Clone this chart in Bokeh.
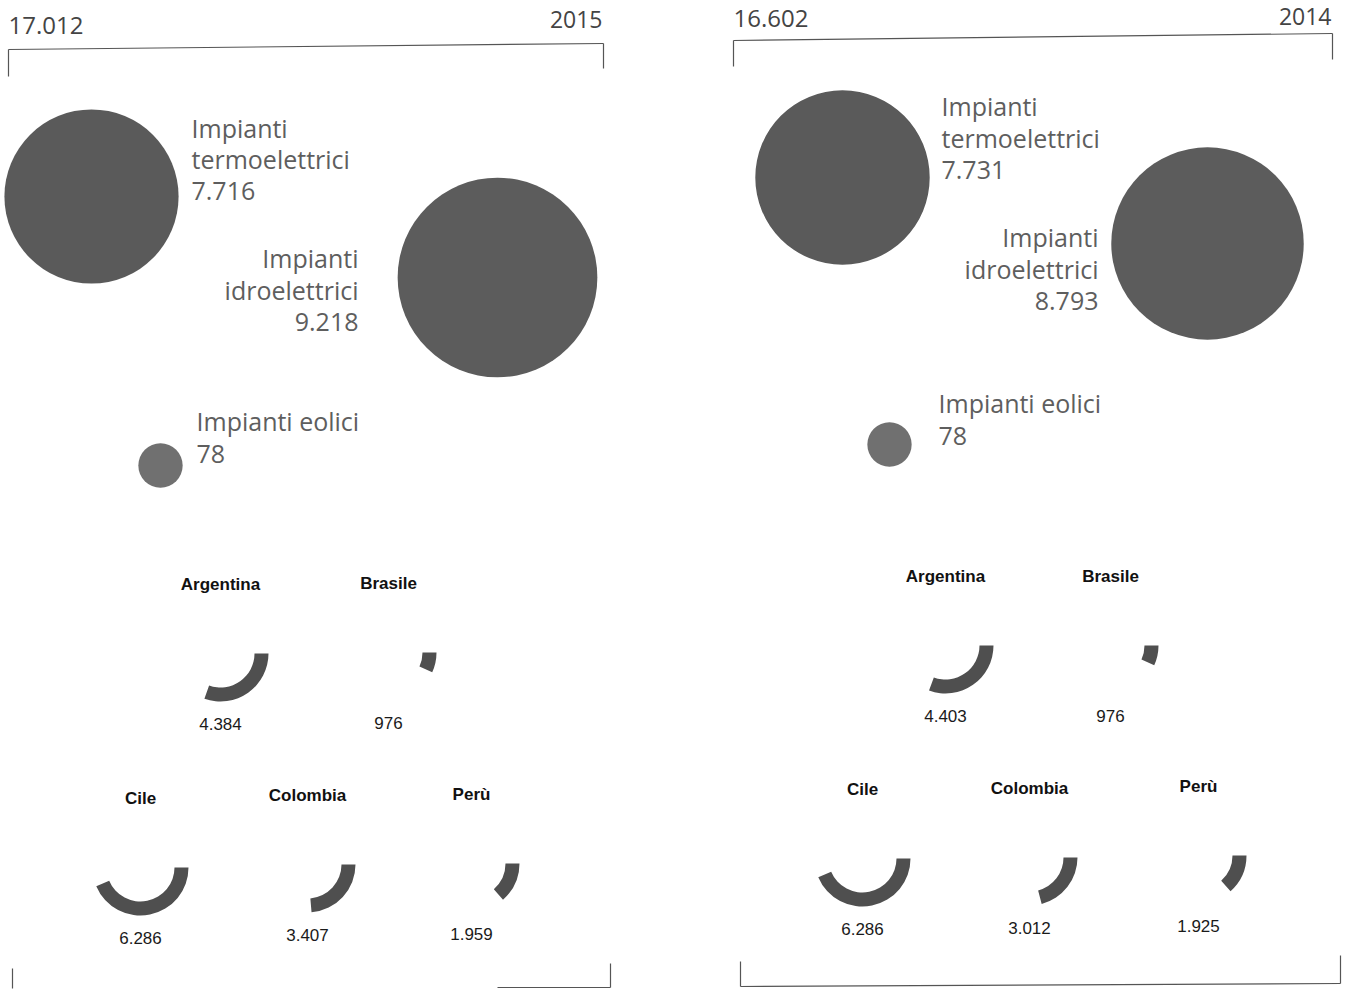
import math
from bokeh.plotting import figure
from bokeh.models import Range1d
from bokeh.core.properties import value
from bokeh.embed import file_html
from bokeh.resources import INLINE

# ---------------- data ----------------
years = ["2015", "2014"]
totals = [17012, 16602]
plant_labels = ["Impianti\ntermoelettrici", "Impianti\nidroelettrici", "Impianti eolici"]
plants_2015 = [7716, 9218, 78]
plants_2014 = [7731, 8793, 78]
countries = ["Argentina", "Brasile", "Cile", "Colombia", "Perù"]
countries_2015 = [4384, 976, 6286, 3407, 1959]
countries_2014 = [4403, 976, 6286, 3012, 1925]

# ---------------- styling / scales ----------------
W, H = 1349, 989
CIRCLE_R0, CIRCLE_K = 21.5, 0.0085        # radius = r0 + k * MW
ARC_FULL = 14400.0                          # MW corresponding to a full ring
ARC_R_IN, ARC_R_OUT = 34, 48
BIG_FONT = value("Open Sans")
SMALL_FONT = value("Liberation Sans")
CIRCLE_COLORS = ["#5a5a5a", "#5c5c5c", "#707070"]
ARC_COLOR = "#4f4f4f"
LINE_COLOR = "#555555"
BIG_DY, SMALL_DY = -11, -7                  # baseline correction for rendering


def fmt(v):
    return f"{v:,}".replace(",", ".")


def Y(sy):
    # page pixel row -> data y
    return H - sy


# layout of each panel (page pixel positions)
layouts = [
    dict(
        total_xy=(8, 36), year_xy=(602, 30),
        top=[(8, 49, 603, 43), (8, 49, 8, 76), (603, 43, 603, 68)],
        bottom=[(12, 968, 12, 988), (610, 963, 610, 987), (497, 987, 610, 987)],
        circles=[(91, 196), (497, 277), (160, 465)],
        labels=[(191, 138, "left", 31.5), (358, 268, "right", 32), (196, 431, "left", 33)],
        arcs=[(220, 653), (388, 652), (140, 867), (307, 864), (471, 863)],
    ),
    dict(
        total_xy=(733, 29), year_xy=(1331, 27),
        top=[(733, 40, 1332, 33), (733, 40, 733, 66), (1332, 33, 1332, 59)],
        bottom=[(740, 986, 1340, 983), (740, 961, 740, 986), (1340, 955, 1340, 983)],
        circles=[(842, 177), (1207, 243), (889, 444)],
        labels=[(941, 116, "left", 32), (1098, 247, "right", 32), (938, 413, "left", 33)],
        arcs=[(945, 645), (1110, 645), (862, 858), (1029, 857), (1198, 855)],
    ),
]
plant_values = [plants_2015, plants_2014]
country_values = [countries_2015, countries_2014]

p = figure(width=W, height=H, x_range=Range1d(0, W), y_range=Range1d(0, H),
           output_backend="svg", toolbar_location=None,
           x_axis_type=None, y_axis_type=None, min_border=0)
p.grid.visible = False
p.outline_line_color = None
p.background_fill_color = "white"
p.border_fill_color = "white"

for i, lay in enumerate(layouts):
    # header texts
    tx, ty = lay["total_xy"]
    p.text(x=[tx], y=[Y(ty + BIG_DY)], text=[fmt(totals[i])], text_font=BIG_FONT,
           text_font_size="24px", text_color="#444444", text_align="left",
           text_baseline="alphabetic")
    yx, yy = lay["year_xy"]
    p.text(x=[yx], y=[Y(yy + BIG_DY)], text=[years[i]], text_font=BIG_FONT,
           text_font_size="23px", text_color="#444444", text_align="right",
           text_baseline="alphabetic")
    # brackets
    segs = lay["top"] + lay["bottom"]
    p.segment(x0=[s[0] for s in segs], y0=[Y(s[1]) for s in segs],
              x1=[s[2] for s in segs], y1=[Y(s[3]) for s in segs],
              line_color=LINE_COLOR, line_width=1.2)

    # plant circles
    vals = plant_values[i]
    for j, v in enumerate(vals):
        cx, cy = lay["circles"][j]
        r = CIRCLE_R0 + CIRCLE_K * v
        p.circle(x=[cx], y=[Y(cy)], radius=r, fill_color=CIRCLE_COLORS[j],
                 line_color=None)
        lx, ly, al, lh = lay["labels"][j]
        lines = plant_labels[j].split("\n") + [fmt(v)]
        p.text(x=[lx] * len(lines),
               y=[Y(ly + k * lh + BIG_DY) for k in range(len(lines))],
               text=lines, text_font=BIG_FONT, text_font_size="25px",
               text_color="#5e5e5e", text_align=al, text_baseline="alphabetic")

    # country arcs
    cvals = country_values[i]
    for j, v in enumerate(cvals):
        cx, cy = lay["arcs"][j]
        ang = v / ARC_FULL * 2 * math.pi
        p.annular_wedge(x=[cx], y=[Y(cy)], inner_radius=ARC_R_IN, outer_radius=ARC_R_OUT,
                        start_angle=0, end_angle=-ang, direction="clock",
                        fill_color=ARC_COLOR, line_color=None)
        p.text(x=[cx], y=[Y(cy - 62 + SMALL_DY)], text=[countries[j]], text_font=SMALL_FONT,
               text_font_style="bold", text_font_size="17px", text_color="#111111",
               text_align="center", text_baseline="alphabetic")
        p.text(x=[cx], y=[Y(cy + 77 + SMALL_DY)], text=[fmt(v)], text_font=SMALL_FONT,
               text_font_size="17px", text_color="#1a1a1a",
               text_align="center", text_baseline="alphabetic")

open("out.html", "w").write(file_html(p, INLINE))
